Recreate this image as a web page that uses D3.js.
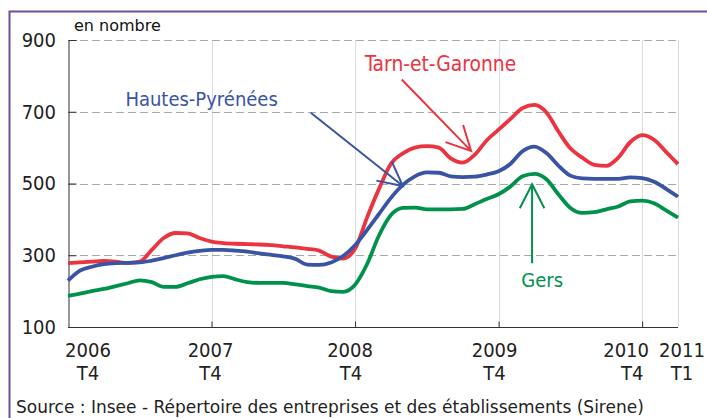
<!DOCTYPE html>
<html>
<head>
<meta charset="utf-8">
<script src="https://cdn.jsdelivr.net/npm/d3@7"></script>
<style>
    body { margin: 0; background: #fff; }
    svg { display: block; font-family: "DejaVu Sans Condensed", "DejaVu Sans", sans-serif; }
    .wide { font-family: "DejaVu Sans", sans-serif; }
</style>
</head>
<body>
<div class="chart"></div>
<script>
// monthly values, 2006 T4 (month 0) to 2011 T1 (month 51)
const tarnGaronne = [278, 280, 282, 284, 282, 278, 282, 315, 348, 362, 361, 348, 338, 334, 332, 331, 330, 328, 325, 322, 318, 313, 296, 291, 318, 405, 485, 555, 584, 600, 604, 600, 570, 558, 580, 620, 650, 680, 710, 719, 698, 645, 598, 572, 552, 549, 572, 615, 635, 622, 588, 554];
const hautesPyrenees = [229, 257, 268, 275, 278, 279, 280, 285, 292, 300, 307, 312, 315, 315, 313, 310, 305, 301, 297, 290, 274, 273, 280, 298, 328, 370, 415, 460, 496, 520, 531, 530, 520, 518, 519, 525, 534, 555, 590, 603, 585, 550, 522, 514, 513, 513, 513, 517, 515, 505, 485, 463];
const gers = [187, 193, 200, 206, 214, 222, 230, 225, 212, 212, 222, 233, 240, 242, 233, 225, 223, 223, 223, 219, 214, 210, 200, 198, 218, 275, 355, 412, 432, 433, 428, 428, 428, 429, 442, 457, 470, 492, 520, 527, 512, 470, 432, 418, 420, 428, 436, 450, 452, 445, 425, 405];

const yTicks = [100, 300, 500, 700, 900];
const xTickMonths = [0, 12, 24, 36, 48, 51];
const xTickYears = ["2006", "2007", "2008", "2009", "2010", "2011"];
const xTickQuarters = ["T4", "T4", "T4", "T4", "T4", "T1"];

const seriesNames = ["Tarn-et-Garonne", "Hautes-Pyrénées", "Gers"];
const seriesColors = ["#ec3340", "#3a54a4", "#00924a"];

// label start point and arrow (from -> tip), in month / value units
const labelAt = [[24.8, 814], [4.8, 716], [37.9, 212]];
const arrowFrom = [[27.9, 790], [20.3, 697], [38.8, 278]];
const arrowTip = [[33.7, 591], [28.0, 493], [38.8, 498]];

const width = 707,
    height = 418;
const x = d3.scaleLinear().domain([0, 51]).range([68, 678]);
const y = d3.scaleLinear().domain([100, 900]).range([327, 40]);

let svg = d3.select(".chart").append("svg")
    .attr("width", width)
    .attr("height", height);

// frame
svg.append("path")
    .attr("d", `M9.5,${height} V11.5 H${width}`)
    .attr("fill", "none")
    .attr("stroke", "#6f4fa0")
    .attr("stroke-width", 2);

// vertical grid
svg.selectAll(".vgrid")
    .data(xTickMonths.slice(1))
    .join("line")
    .attr("class", "vgrid")
    .attr("x1", d => Math.round(x(d)) + 0.5)
    .attr("x2", d => Math.round(x(d)) + 0.5)
    .attr("y1", y(900))
    .attr("y2", y(100))
    .attr("stroke", "#dcdcdc")
    .attr("stroke-width", 1);

// horizontal dashed grid
svg.selectAll(".hgrid")
    .data(yTicks.slice(1))
    .join("line")
    .attr("class", "hgrid")
    .attr("x1", x(0))
    .attr("x2", x(51))
    .attr("y1", d => Math.round(y(d)) + 0.5)
    .attr("y2", d => Math.round(y(d)) + 0.5)
    .attr("stroke", "#a8a8a8")
    .attr("stroke-dasharray", "8,4")
    .attr("stroke-width", 1.2);

// y axis
let yAxis = svg.append("g")
    .attr("transform", `translate(${x(0) + 0.5},0)`)
    .call(d3.axisRight(y).tickValues(yTicks).tickSize(8).tickFormat(""));
yAxis.select(".domain").attr("stroke", "#333");
yAxis.selectAll("line").attr("stroke", "#333");

svg.selectAll(".ylab")
    .data(yTicks)
    .join("text")
    .attr("class", "ylab")
    .attr("x", 56)
    .attr("y", d => y(d))
    .attr("dy", "0.34em")
    .attr("text-anchor", "end")
    .style("font-size", "20px")
    .style("fill", "#222")
    .text(d => d);

// x axis
let xAxis = svg.append("g")
    .attr("transform", `translate(0,${y(100) + 0.5})`)
    .call(d3.axisTop(x).tickValues(xTickMonths.slice(1, 5)).tickSize(6).tickFormat(""));
xAxis.select(".domain").attr("stroke", "#333").attr("d", `M${x(0)},0H${x(51)}`);
xAxis.selectAll("line").attr("stroke", "#333");

// label nudges (px) so the two-line labels sit like the original
const yearDx = [20, -1, -5, -4, -16, 4];
const quarterDx = [20, -1, -4, -4, -10, 4];

svg.selectAll(".xyear")
    .data(xTickYears)
    .join("text")
    .attr("class", "xyear")
    .attr("x", (d, i) => x(xTickMonths[i]) + yearDx[i])
    .attr("y", 357)
    .attr("text-anchor", "middle")
    .style("font-size", "20px")
    .style("fill", "#222")
    .text(d => d);

svg.selectAll(".xquarter")
    .data(xTickQuarters)
    .join("text")
    .attr("class", "xquarter")
    .attr("x", (d, i) => x(xTickMonths[i]) + quarterDx[i])
    .attr("y", 380)
    .attr("text-anchor", "middle")
    .style("font-size", "20px")
    .style("fill", "#222")
    .text(d => d);

// lines
const series = [tarnGaronne, gers, hautesPyrenees];
const seriesColor = [seriesColors[0], seriesColors[2], seriesColors[1]];
const line = d3.line()
    .x((d, i) => x(i))
    .y(d => y(d))
    .curve(d3.curveMonotoneX);

svg.selectAll(".serie")
    .data(series)
    .join("path")
    .attr("class", "serie")
    .attr("d", line)
    .attr("fill", "none")
    .attr("stroke", (d, i) => seriesColor[i])
    .attr("stroke-width", 3.8)
    .attr("stroke-linejoin", "round");

// annotations
const labelSize = [20.8, 20, 20];
seriesNames.forEach((name, i) => {
    svg.append("text")
        .attr("x", x(labelAt[i][0]))
        .attr("y", y(labelAt[i][1]))
        .style("font-size", labelSize[i] + "px")
        .style("fill", seriesColors[i])
        .text(name);

    let fx = x(arrowFrom[i][0]), fy = y(arrowFrom[i][1]);
    let tx = x(arrowTip[i][0]), ty = y(arrowTip[i][1]);
    let ang = Math.atan2(fy - ty, fx - tx);
    let a = 27 * Math.PI / 180, len = 27;
    let p = d3.path();
    p.moveTo(fx, fy);
    p.lineTo(tx, ty);
    p.moveTo(tx + len * Math.cos(ang - a), ty + len * Math.sin(ang - a));
    p.lineTo(tx, ty);
    p.lineTo(tx + len * Math.cos(ang + a), ty + len * Math.sin(ang + a));
    svg.append("path")
        .attr("d", p.toString())
        .attr("fill", "none")
        .attr("stroke", seriesColors[i])
        .attr("stroke-width", 2);
});

svg.append("text")
    .attr("class", "wide")
    .attr("x", 74)
    .attr("y", 31)
    .style("font-size", "16px")
    .style("fill", "#111")
    .text("en nombre");

svg.append("text")
    .attr("class", "wide")
    .attr("x", 16)
    .attr("y", 413)
    .style("font-size", "17px")
    .style("fill", "#222")
    .text("Source : Insee - Répertoire des entreprises et des établissements (Sirene)");
</script>
</body>
</html>
